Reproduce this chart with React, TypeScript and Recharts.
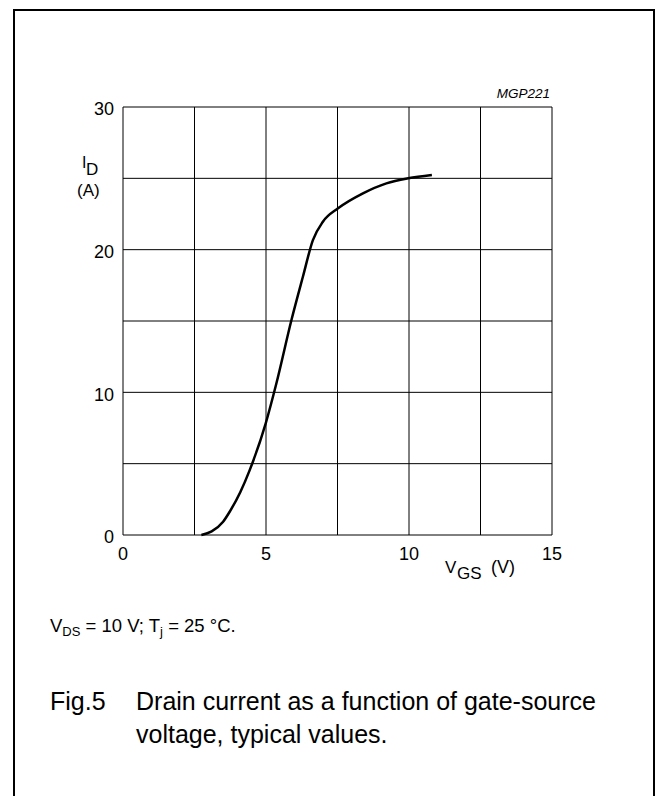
import { LineChart, Line, XAxis, YAxis, CartesianGrid } from 'recharts'

// V_GS (V)
const vgs = [2.74, 3.1, 3.5, 3.73, 4.1, 4.43, 4.99, 5.36, 5.89, 6.29, 6.64, 6.99, 7.52, 8.39, 9.21, 9.97, 10.8]
// I_D (A)
const idAmps = [0, 0.25, 0.93, 1.63, 3.0, 4.55, 7.83, 10.6, 15.07, 18.1, 20.67, 21.96, 22.9, 23.95, 24.65, 25.0, 25.23]

const xTicks = [0, 2.5, 5, 7.5, 10, 12.5, 15]
const yTicks = [0, 5, 10, 15, 20, 25, 30]

const chartData = vgs.map((v, i) => ({ vgs: v, id: idAmps[i] }))

const font = '"Liberation Sans", Arial, sans-serif'

export default function App() {
  return (
    <div style={{ position: 'absolute', left: 0, top: 0, width: 655, height: 796, background: '#fff', fontFamily: font, overflow: 'hidden' }}>
      {/* page frame, open at the bottom */}
      <div
        style={{
          position: 'absolute',
          left: 13,
          top: 9,
          width: 638,
          height: 820,
          border: '2px solid #000',
          borderBottom: 'none',
        }}
      />
      <div style={{ position: 'absolute', left: 0, top: 0 }}>
        <LineChart
          width={600}
          height={600}
          data={chartData}
          margin={{ top: 107, right: 48, left: 83, bottom: 35 }}
        >
          <CartesianGrid stroke="#000" strokeWidth={1} />
          <XAxis
            type="number"
            dataKey="vgs"
            domain={[0, 15]}
            ticks={xTicks}
            height={30}
            axisLine={false}
            tickLine={false}
            tickMargin={6}
            tick={{ fill: '#000', fontSize: 18, fontFamily: font }}
            tickFormatter={(v: number) => (v % 5 === 0 ? String(v) : '')}
            interval={0}
          />
          <YAxis
            type="number"
            dataKey="id"
            domain={[0, 30]}
            ticks={yTicks}
            width={40}
            axisLine={false}
            tickLine={false}
            tickMargin={3}
            tick={{ fill: '#000', fontSize: 18, fontFamily: font, dy: 2 }}
            tickFormatter={(v: number) => (v % 10 === 0 ? String(v) : '')}
            interval={0}
          />
          <Line
            type="monotone"
            dataKey="id"
            stroke="#000"
            strokeWidth={2.5}
            dot={false}
            isAnimationActive={false}
          />
        </LineChart>
      </div>
      <svg
        width={655}
        height={796}
        style={{ position: 'absolute', left: 0, top: 0, pointerEvents: 'none' }}
        fontFamily={font}
        fill="#000"
      >
        <text x={550} y={98} fontSize={13.5} fontStyle="italic" textAnchor="end">MGP221</text>
        <text x={82} y={168} fontSize={16}>I</text>
        <text x={86} y={175} fontSize={17}>D</text>
        <text x={77} y={196} fontSize={17}>(A)</text>
        <text x={445} y={573} fontSize={17}>V</text>
        <text x={457} y={579} fontSize={17}>GS</text>
        <text x={491} y={573} fontSize={18}>(V)</text>
        <text x={50} y={632} fontSize={18.5}>
          V<tspan fontSize={13} dy={4}>DS</tspan>
          <tspan dy={-4}> = 10 V; T</tspan>
          <tspan fontSize={13} dy={4}>j</tspan>
          <tspan dy={-4}> = 25 °C.</tspan>
        </text>
        <text x={50} y={710} fontSize={25}>Fig.5</text>
        <text x={136} y={710} fontSize={25}>Drain current as a function of gate-source</text>
        <text x={136} y={743} fontSize={25}>voltage, typical values.</text>
      </svg>
    </div>
  )
}
